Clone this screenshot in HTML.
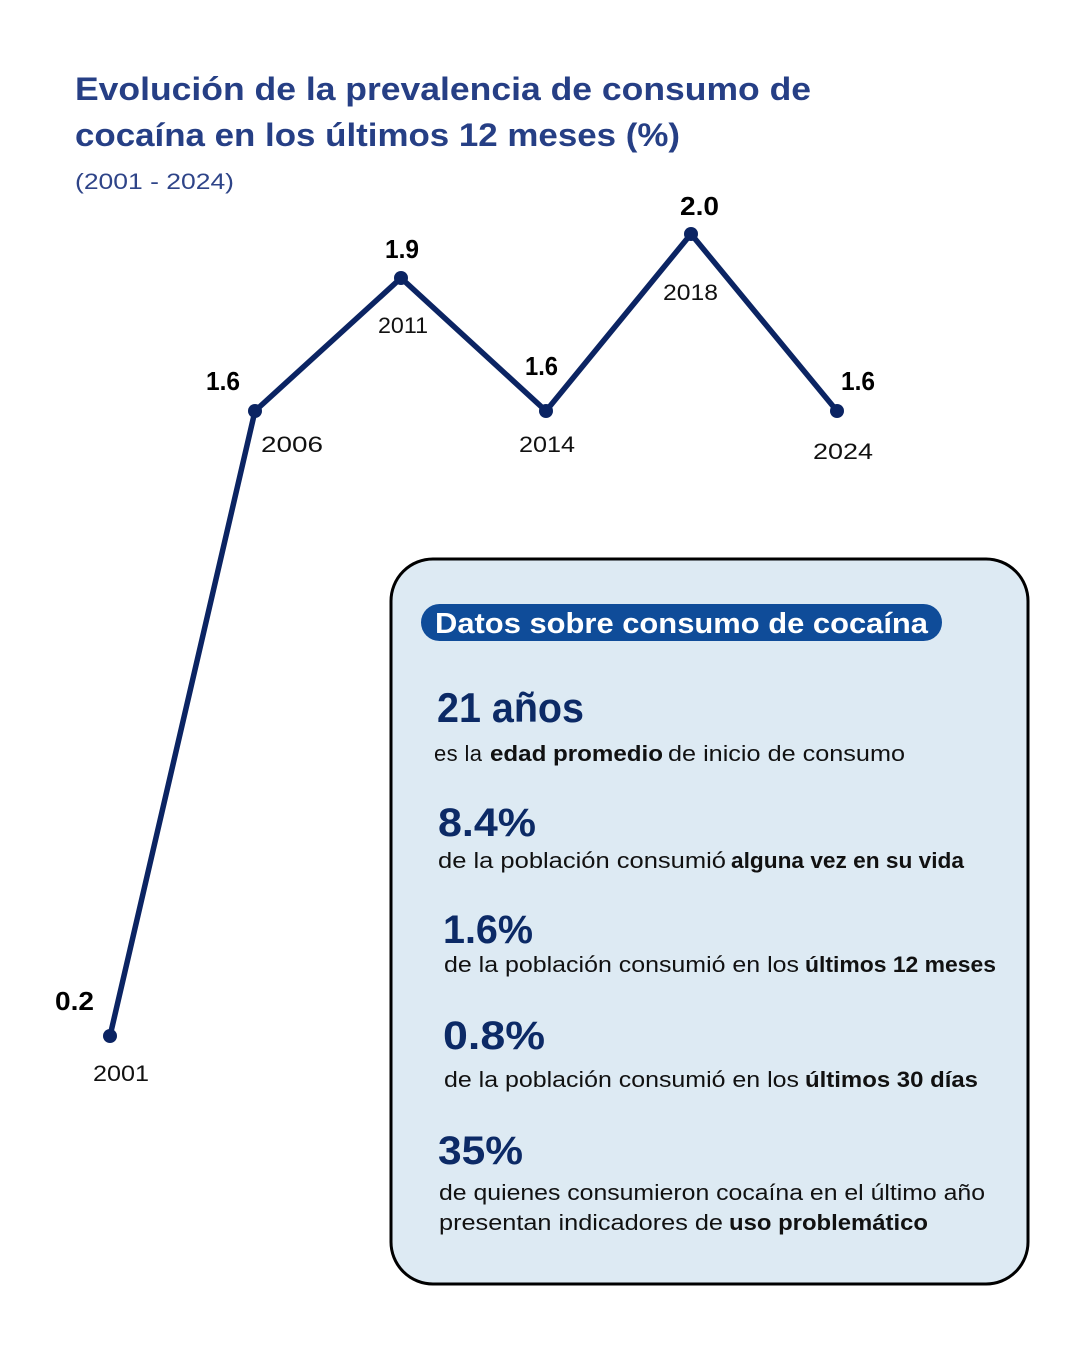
<!DOCTYPE html>
<html>
<head>
<meta charset="utf-8">
<style>
  html,body{margin:0;padding:0;background:#ffffff;}
  svg{display:block;}
  text{font-family:"Liberation Sans", Arial, sans-serif;}
</style>
</head>
<body>
<svg width="1080" height="1350" viewBox="0 0 1080 1350" xmlns="http://www.w3.org/2000/svg">
  <rect x="0" y="0" width="1080" height="1350" fill="#ffffff"/>

  <!-- Title -->
  <text x="75" y="100" font-size="32" font-weight="bold" fill="#263f85" textLength="736" lengthAdjust="spacingAndGlyphs">Evolución de la prevalencia de consumo de</text>
  <text x="75" y="146" font-size="32" font-weight="bold" fill="#263f85" textLength="605" lengthAdjust="spacingAndGlyphs">cocaína en los últimos 12 meses (%)</text>
  <text x="75" y="189" font-size="22" fill="#2e4488" textLength="159" lengthAdjust="spacingAndGlyphs">(2001 - 2024)</text>

  <!-- Line -->
  <polyline points="110,1036 255,411 401,278 546,411 691,234 837,411" fill="none" stroke="#0b2463" stroke-width="5.5" stroke-linejoin="miter" stroke-linecap="round"/>
  <g fill="#0b2463">
    <circle cx="110" cy="1036" r="7"/>
    <circle cx="255" cy="411" r="7"/>
    <circle cx="401" cy="278" r="7"/>
    <circle cx="546" cy="411" r="7"/>
    <circle cx="691" cy="234" r="7"/>
    <circle cx="837" cy="411" r="7"/>
  </g>

  <!-- Value labels -->
  <g font-size="26" font-weight="bold" fill="#000">
    <text x="55" y="1010" textLength="39" lengthAdjust="spacingAndGlyphs">0.2</text>
    <text x="206" y="390" textLength="34" lengthAdjust="spacingAndGlyphs">1.6</text>
    <text x="385" y="258" textLength="34" lengthAdjust="spacingAndGlyphs">1.9</text>
    <text x="525" y="375" textLength="33" lengthAdjust="spacingAndGlyphs">1.6</text>
    <text x="680" y="215" textLength="39" lengthAdjust="spacingAndGlyphs">2.0</text>
    <text x="841" y="390" textLength="34" lengthAdjust="spacingAndGlyphs">1.6</text>
  </g>

  <!-- Year labels -->
  <g font-size="22" fill="#111">
    <text x="93" y="1081" textLength="56" lengthAdjust="spacingAndGlyphs">2001</text>
    <text x="261" y="452" textLength="62" lengthAdjust="spacingAndGlyphs">2006</text>
    <text x="378" y="333" textLength="50" lengthAdjust="spacingAndGlyphs">2011</text>
    <text x="519" y="452" textLength="56" lengthAdjust="spacingAndGlyphs">2014</text>
    <text x="663" y="300" textLength="55" lengthAdjust="spacingAndGlyphs">2018</text>
    <text x="813" y="459" textLength="60" lengthAdjust="spacingAndGlyphs">2024</text>
  </g>

  <!-- Info box -->
  <rect x="391" y="559" width="637" height="725" rx="42" ry="42" fill="#ddeaf3" stroke="#000" stroke-width="3"/>

  <!-- Pill -->
  <rect x="421" y="604" width="521" height="37" rx="18.5" ry="18.5" fill="#0f4c99"/>
  <text x="435" y="633" font-size="29" font-weight="bold" fill="#ffffff" textLength="493" lengthAdjust="spacingAndGlyphs">Datos sobre consumo de cocaína</text>

  <!-- Stats -->
  <g font-weight="bold" fill="#0c2a66">
    <text x="437" y="722" font-size="42" textLength="147" lengthAdjust="spacingAndGlyphs">21 años</text>
    <text x="438" y="836" font-size="40" textLength="98" lengthAdjust="spacingAndGlyphs">8.4%</text>
    <text x="443" y="943" font-size="40" textLength="90" lengthAdjust="spacingAndGlyphs">1.6%</text>
    <text x="443" y="1049" font-size="40" textLength="102" lengthAdjust="spacingAndGlyphs">0.8%</text>
    <text x="438" y="1164" font-size="40" textLength="85" lengthAdjust="spacingAndGlyphs">35%</text>
  </g>

  <g font-size="22" fill="#111">
    <!-- line 1 -->
    <text x="434" y="761" textLength="48" lengthAdjust="spacing">es la</text>
    <text x="490" y="761" font-weight="bold" textLength="173" lengthAdjust="spacingAndGlyphs">edad promedio</text>
    <text x="668" y="761" textLength="237" lengthAdjust="spacingAndGlyphs">de inicio de consumo</text>
    <!-- line 2 -->
    <text x="438" y="868" textLength="288" lengthAdjust="spacingAndGlyphs">de la población consumió</text>
    <text x="731" y="868" font-weight="bold" textLength="233" lengthAdjust="spacingAndGlyphs">alguna vez en su vida</text>
    <!-- line 3 -->
    <text x="444" y="972" textLength="355" lengthAdjust="spacingAndGlyphs">de la población consumió en los</text>
    <text x="805" y="972" font-weight="bold" textLength="191" lengthAdjust="spacingAndGlyphs">últimos 12 meses</text>
    <!-- line 4 -->
    <text x="444" y="1087" textLength="355" lengthAdjust="spacingAndGlyphs">de la población consumió en los</text>
    <text x="805" y="1087" font-weight="bold" textLength="173" lengthAdjust="spacingAndGlyphs">últimos 30 días</text>
    <!-- line 5 -->
    <text x="439" y="1200" textLength="546" lengthAdjust="spacingAndGlyphs">de quienes consumieron cocaína en el último año</text>
    <text x="439" y="1230" textLength="284" lengthAdjust="spacingAndGlyphs">presentan indicadores de</text>
    <text x="729" y="1230" font-weight="bold" textLength="199" lengthAdjust="spacingAndGlyphs">uso problemático</text>
  </g>
</svg>
</body>
</html>
